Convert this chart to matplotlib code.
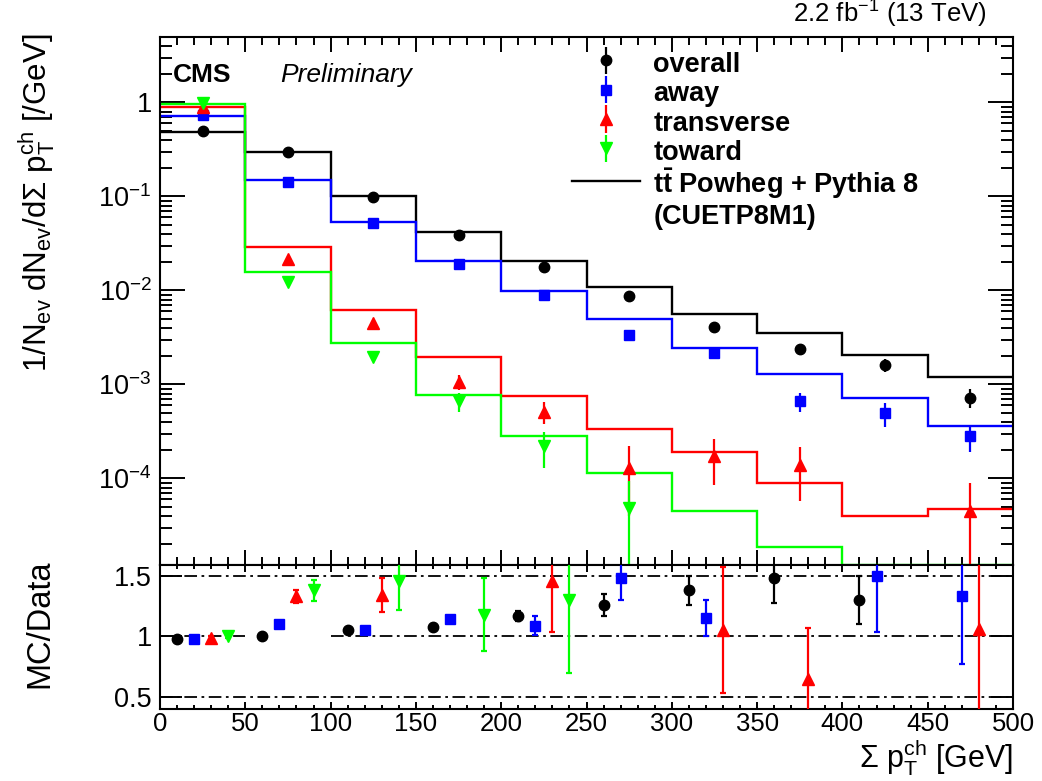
import numpy as np
import matplotlib
matplotlib.use("Agg")
import matplotlib.pyplot as plt
from matplotlib.lines import Line2D
from matplotlib.ticker import MultipleLocator, FixedLocator, FixedFormatter, LogLocator, NullFormatter

plt.rcParams['font.family'] = ['Liberation Sans', 'DejaVu Sans']
plt.rcParams['mathtext.fontset'] = 'custom'
plt.rcParams['mathtext.rm'] = 'Liberation Sans'
plt.rcParams['mathtext.it'] = 'Liberation Sans:italic'
plt.rcParams['mathtext.bf'] = 'Liberation Sans:bold'
plt.rcParams['mathtext.sf'] = 'Liberation Sans'

nan = np.nan

# ---------------- data ----------------
bin_edges = [0, 50, 100, 150, 200, 250, 300, 350, 400, 450, 500]
bin_centers = [25, 75, 125, 175, 225, 275, 325, 375, 425, 475]

# MC (tt Powheg + Pythia 8, CUETP8M1)
mc_overall = [0.49, 0.30, 0.100, 0.0423, 0.0208, 0.0110, 0.00568, 0.00349, 0.00205, 0.00121]
mc_away = [0.72, 0.149, 0.053, 0.0208, 0.00986, 0.00491, 0.00242, 0.00129, 7.25e-4, 3.63e-4]
mc_transverse = [0.90, 0.0293, 0.00626, 0.00194, 7.6e-4, 3.38e-4, 1.9e-4, 8.98e-5, 3.98e-5, 4.76e-5]
mc_toward = [0.97, 0.0157, 0.00277, 7.74e-4, 2.85e-4, 1.15e-4, 4.5e-5, 1.88e-5, 1.2e-5, 1.2e-5]

# Data
data_overall = [0.50, 0.30, 0.098, 0.0393, 0.0177, 0.00873, 0.0041, 0.00236, 0.00161, 7.25e-4]
err_overall = [0.01, 0.006, 0.002, 0.001, 0.0006, 0.0004, 0.0003, 0.0003, 0.00025, 0.00017]
data_away = [0.735, 0.144, 0.0517, 0.0189, 0.00887, 0.00334, 0.00214, 6.6e-4, 4.95e-4, 2.8e-4]
err_away = [0.01, 0.003, 0.001, 0.0005, 0.0004, 0.0003, 0.0002, 1.5e-4, 1.4e-4, 0.9e-4]
data_transverse = [0.90, 0.0217, 0.00452, 0.00107, 5.15e-4, 1.3e-4, 1.75e-4, 1.38e-4, nan, 4.5e-5]
err_transverse = [0.01, 0.0008, 0.0002, 0.0002, 1.4e-4, 0.9e-4, 0.9e-4, 0.8e-4, nan, 4.4e-5]
data_toward = [0.98, 0.0123, 0.00197, 6.6e-4, 2.2e-4, 4.9e-5, nan, nan, nan, nan]
err_toward = [0.01, 0.0005, 0.0001, 1.5e-4, 0.9e-4, 4.4e-5, nan, nan, nan, nan]

# MC/Data ratios
ratio_overall = [0.98, 1.00, 1.05, 1.08, 1.17, 1.26, 1.38, 1.48, 1.30, nan]
rerr_overall = [0.01, 0.01, 0.01, 0.02, 0.04, 0.09, 0.12, 0.20, 0.20, nan]
ratio_away = [0.98, 1.10, 1.05, 1.14, 1.09, 1.48, 1.15, nan, 1.50, 1.33]
rerr_away = [0.01, 0.01, 0.01, 0.02, 0.08, 0.18, 0.15, nan, 0.46, 0.56]
ratio_transverse = [0.99, 1.33, 1.34, nan, 1.46, nan, 1.05, 0.65, nan, 1.06]
rerr_transverse = [0.01, 0.05, 0.14, nan, 0.42, nan, 0.52, 0.42, nan, 0.90]
ratio_toward = [1.00, 1.38, 1.46, 1.18, 1.30, nan, nan, nan, nan, nan]
rerr_toward = [0.01, 0.09, 0.24, 0.30, 0.60, nan, nan, nan, nan, nan]

ratio_ref_levels = [0.5, 1.0, 1.5]
ytick_vals = [1e-4, 1e-3, 1e-2, 1e-1, 1]
ytick_labels = [r"$10^{-4}$", r"$10^{-3}$", r"$10^{-2}$", r"$10^{-1}$", "1"]
rtick_vals = [0.5, 1.0, 1.5]
rtick_labels = ["0.5", "1", "1.5"]
xtick_vals = [0, 50, 100, 150, 200, 250, 300, 350, 400, 450, 500]
xtick_labels = ["0", "50", "100", "150", "200", "250", "300", "350", "400", "450", "500"]

series = [
    ("overall", mc_overall, data_overall, err_overall, ratio_overall, rerr_overall, "#000000", "o", 10),
    ("away", mc_away, data_away, err_away, ratio_away, rerr_away, "#0000ff", "s", 20),
    ("transverse", mc_transverse, data_transverse, err_transverse, ratio_transverse, rerr_transverse, "#ff0000", "^", 30),
    ("toward", mc_toward, data_toward, err_toward, ratio_toward, rerr_toward, "#00ff00", "v", 40),
]

# ---------------- figure ----------------
W, H = 1042, 781
fig = plt.figure(figsize=(W / 100, H / 100), dpi=100)
L, R = 160, 1013
T_up, B_up, B_r = 36.7, 565, 709
ax = fig.add_axes([L / W, 1 - B_up / H, (R - L) / W, (B_up - T_up) / H])
axr = fig.add_axes([L / W, 1 - B_r / H, (R - L) / W, (B_r - B_up) / H], sharex=ax)

lw_frame = 1.5
for a in (ax, axr):
    for s in a.spines.values():
        s.set_linewidth(lw_frame)

handles = []
for name, mc, dat, err, rat, rerr, col, mk, off in series:
    ax.stairs(mc, bin_edges, baseline=None, color=col, lw=1.7, zorder=2)
    ms = 8 if mk in ("^", "v") else 7.5
    if mk == "s":
        ms = 7
    h = ax.errorbar(bin_centers, dat, yerr=err, fmt=mk, color=col, ms=ms, elinewidth=1.6,
                    capsize=0, zorder=3)
    handles.append(h)
    xr = np.array(bin_edges[:-1]) + off
    axr.errorbar(xr, rat, yerr=rerr, fmt=mk, color=col, ms=ms, elinewidth=1.6,
                 capsize=2.5, capthick=1.6, zorder=3)

mc_handle = Line2D([], [], color="black", lw=1.7)
blank = Line2D([], [], color="none")

# upper axes
ax.set_yscale("log")
ax.set_ylim(1.2e-5, 5)
ax.set_xlim(0, 500)
ax.yaxis.set_major_locator(FixedLocator(ytick_vals))
ax.yaxis.set_major_formatter(FixedFormatter(ytick_labels))
ax.yaxis.set_minor_locator(LogLocator(base=10, subs=np.arange(2, 10), numticks=20))
ax.yaxis.set_minor_formatter(NullFormatter())
ax.xaxis.set_major_locator(MultipleLocator(50))
ax.xaxis.set_minor_locator(MultipleLocator(10))
ax.tick_params(axis="x", which="both", labelbottom=False)
ax.tick_params(which="both", direction="in", top=True, right=True, width=1.4)
ax.tick_params(axis="y", which="major", length=18, labelsize=19.5, pad=6)
ax.tick_params(axis="y", which="minor", length=8.5)
ax.tick_params(axis="x", which="major", length=10.5)
ax.tick_params(axis="x", which="minor", length=5.5)

ax.set_ylabel(r"1/N$_{\mathrm{ev}}$ dN$_{\mathrm{ev}}$/d$\Sigma$ p$_{\mathrm{T}}^{\mathrm{ch}}$ [/GeV]",
              fontsize=22.5, loc="top")
ax.yaxis.set_label_coords(-0.121, 1.005)

ax.text(0.015, 0.9275, "CMS", transform=ax.transAxes, fontsize=19, fontweight="bold",
        ha="left", va="center")
ax.text(0.1407, 0.9275, "Preliminary", transform=ax.transAxes, fontsize=19, style="italic",
        ha="left", va="center")
ax.text(0.9695, 1.012, r"2.2 fb$^{-1}$ (13 TeV)", transform=ax.transAxes, fontsize=18.5,
        ha="right", va="bottom")

leg = ax.legend(handles + [mc_handle, blank],
                ["overall", "away", "transverse", "toward",
                 r"$\mathbf{t\bar{t}}$ Powheg + Pythia 8", "(CUETP8M1)"],
                loc="upper left", bbox_to_anchor=(0.483, 0.977), frameon=False,
                prop={"size": 19.5, "weight": "bold"}, handlelength=2.5,
                handleheight=1.23, handletextpad=0.5, labelspacing=0.0,
                borderpad=0, borderaxespad=0)

# ratio axes
axr.set_ylim(0.4, 1.59)
axr.set_xlim(0, 500)
ref_style = (0, (7, 2.5, 1.5, 2.5))
for lvl in ratio_ref_levels:
    if lvl == 1.0:
        axr.hlines([lvl, lvl], [0, 100], [50, 500], colors="black", lw=1.3,
                   linestyles=[ref_style], zorder=1)
    else:
        axr.hlines(lvl, 0, 500, colors="black", lw=1.3,
                   linestyles=[ref_style], zorder=1)
axr.yaxis.set_major_locator(FixedLocator(rtick_vals))
axr.yaxis.set_major_formatter(FixedFormatter(rtick_labels))
axr.xaxis.set_major_locator(FixedLocator(xtick_vals))
axr.xaxis.set_major_formatter(FixedFormatter(xtick_labels))
axr.xaxis.set_minor_locator(MultipleLocator(10))
axr.tick_params(which="both", direction="in", top=True, right=True, width=1.4)
axr.tick_params(axis="y", which="major", length=16, labelsize=19.5, pad=6)
axr.tick_params(axis="x", which="major", length=5, labelsize=18.5, pad=2.5)
axr.tick_params(axis="x", which="minor", length=3)
axr.set_ylabel("MC/Data", fontsize=23.5, loc="top")
axr.yaxis.set_label_coords(-0.123, 1.04)
axr.set_xlabel(r"$\Sigma$ p$_{\mathrm{T}}^{\mathrm{ch}}$ [GeV]", fontsize=22, loc="right")
axr.xaxis.set_label_coords(1.0, -0.2)

fig.savefig("out.png", dpi=100)
